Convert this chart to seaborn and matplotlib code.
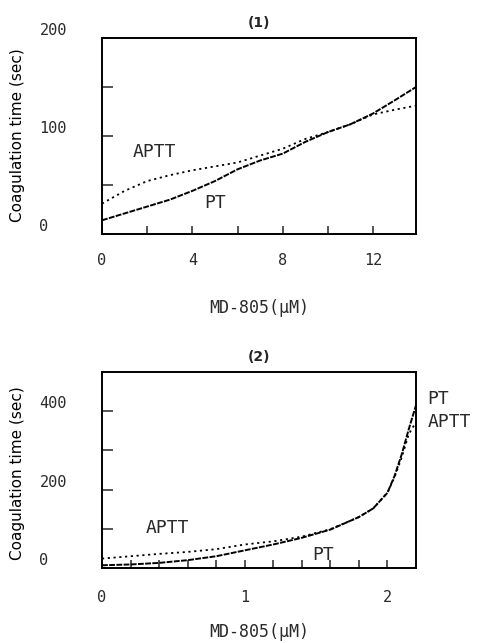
import matplotlib
matplotlib.use("Agg")
import matplotlib.pyplot as plt
import seaborn as sns
import pandas as pd

# ---- data ----
x1 = [0, 1, 2, 3, 4, 5, 6, 7, 8, 9, 10, 11, 12, 13, 13.9]
pt1 = [14, 21, 28, 35, 44, 54, 66, 75, 82, 94, 104, 112, 123, 137, 150]
aptt1 = [31, 44, 54, 60, 65, 69, 73, 80, 87, 97, 104, 112, 122, 127, 131]

x2 = [0, 0.2, 0.4, 0.6, 0.8, 1.0, 1.2, 1.4, 1.6, 1.8, 1.9, 2.0, 2.05, 2.1, 2.15, 2.2]
pt2 = [7, 9, 13, 20, 30, 45, 60, 77, 98, 130, 152, 192, 235, 290, 355, 415]
aptt2 = [24, 30, 36, 41, 48, 60, 68, 80, 99, 130, 152, 192, 232, 282, 342, 372]

xt1 = [0, 2, 4, 6, 8, 10, 12]
xl1 = ["0", "", "4", "", "8", "", "12"]
yt1 = [0, 50, 100, 150, 200]
yl1 = ["0", "", "100", "", "200"]

xt2 = [0, 0.2, 0.4, 0.6, 0.8, 1.0, 1.2, 1.4, 1.6, 1.8, 2.0]
xl2 = ["0", "", "", "", "", "1", "", "", "", "", "2"]
yt2 = [0, 100, 200, 300, 400]
yl2 = ["0", "", "200", "", "400"]

titles = ["(1)", "(2)"]
xlabel = "MD-805(μM)"
ylabel = "Coagulation time (sec)"

sns.set_style("ticks")
plt.rcParams["font.family"] = ["DejaVu Sans"]

fig = plt.figure(figsize=(4.91, 6.43), dpi=100)
ax1 = fig.add_axes([102/491, 1-234/643, 314/491, 196/643])
ax2 = fig.add_axes([102/491, 1-568/643, 314/491, 196/643])

mono = "DejaVu Sans Mono"
tcol = "#2a2a2a"

def draw(ax, x, pt, aptt, xlim, ylim, xt, xl, yt, yl, title, xpad, xlab_y, ylab_y):
    df_pt = pd.DataFrame({"x": x, "y": pt})
    df_ap = pd.DataFrame({"x": x, "y": aptt})
    sns.lineplot(data=df_pt, x="x", y="y", ax=ax, color="black",
                 linewidth=1.4, linestyle=(0, (3.0, 0.7)))
    sns.lineplot(data=df_ap, x="x", y="y", ax=ax, color="black",
                 linewidth=1.3, linestyle=(0, (1.2, 2.0)))
    ax.set_xlim(*xlim)
    ax.set_ylim(*ylim)
    ax.set_xticks(xt, xl)
    ax.set_yticks(yt, yl)
    ax.tick_params(axis="x", direction="in", length=6, width=1.1, pad=xpad,
                   labelsize=11, labelcolor=tcol)
    ax.tick_params(axis="y", direction="in", length=8, width=1.1, pad=45,
                   labelsize=11, labelcolor=tcol)
    for lab in ax.get_yticklabels():
        lab.set_ha("left")
        lab.set_va("bottom")
        lab.set_family(mono)
    for lab in ax.get_xticklabels():
        lab.set_family(mono)
    for s in ax.spines.values():
        s.set_visible(True)
        s.set_linewidth(1.4)
        s.set_color("black")
    ax.set_title(title, fontsize=10, fontweight="bold", pad=8)
    ax.set_xlabel(xlabel, fontsize=12, family=mono, color=tcol)
    ax.xaxis.set_label_coords(0.5, xlab_y)
    ax.xaxis.label.set_va("center")
    ax.set_ylabel(ylabel, fontsize=11, color="black")
    ax.yaxis.set_label_coords(-0.268, ylab_y)
    ax.yaxis.label.set_va("center")

draw(ax1, x1, pt1, aptt1, (0, 13.9), (0, 200), xt1, xl1, yt1, yl1,
     titles[0], 14, -0.378, 0.505)
draw(ax2, x2, pt2, aptt2, (0, 2.2), (0, 500), xt2, xl2, yt2, yl2,
     titles[1], 16, -0.327, 0.485)

# curve labels
ax1.text(2.3, 84, "APTT", family=mono, fontsize=13, color=tcol, ha="center", va="center")
ax1.text(5.0, 32, "PT", family=mono, fontsize=13, color=tcol, ha="center", va="center")
ax2.text(0.46, 102, "APTT", family=mono, fontsize=13, color=tcol, ha="center", va="center")
ax2.text(1.55, 33, "PT", family=mono, fontsize=13, color=tcol, ha="center", va="center")
ax2.text(2.28, 430, "PT", family=mono, fontsize=13, color=tcol, ha="left", va="center", clip_on=False)
ax2.text(2.28, 372, "APTT", family=mono, fontsize=13, color=tcol, ha="left", va="center", clip_on=False)

fig.savefig("out.png", dpi=100)
